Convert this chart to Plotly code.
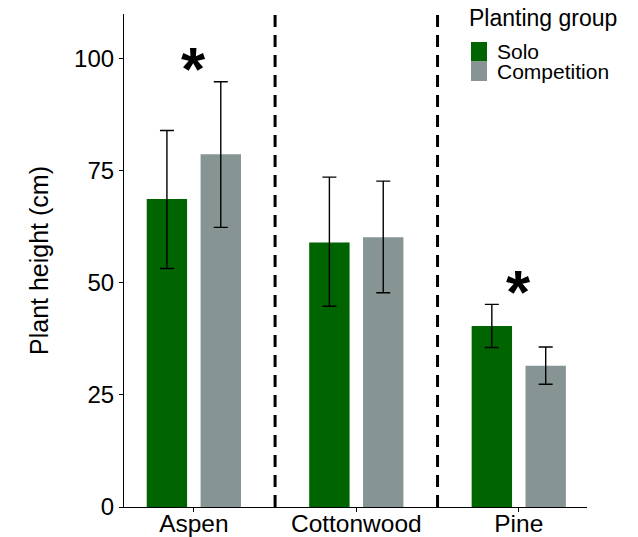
import plotly.graph_objects as go

# Mean plant height per species and planting group, with error bounds
species = ["Aspen", "Cottonwood", "Pine"]
groups = ["Solo", "Competition"]
solo_mean = [68.7, 59.0, 40.4]
solo_low = [53.2, 44.8, 35.6]
solo_high = [84.0, 73.6, 45.2]
comp_mean = [78.7, 60.2, 31.5]
comp_low = [62.4, 47.8, 27.4]
comp_high = [94.9, 72.7, 35.7]
significant = ["Aspen", "Pine"]
y_ticks = [0, 25, 50, 75, 100]

colors = {"Solo": "#006400", "Competition": "#869594"}
FONT = "Liberation Sans, Arial, Helvetica, sans-serif"

W, H = 638, 537
M_L, M_R, M_T, M_B = 124, 51, 14, 30
PW, PH = W - M_L - M_R, H - M_T - M_B


def px_x(px):
    return (px - M_L) / PW


def px_y(py):
    return (H - M_B - py) / PH


fig = go.Figure()
series = [
    ("Solo", solo_mean, solo_low, solo_high),
    ("Competition", comp_mean, comp_low, comp_high),
]
for name, mean, low, high in series:
    fig.add_trace(go.Bar(
        x=species, y=mean, name=name,
        marker=dict(color=colors[name], line=dict(width=0)),
        error_y=dict(
            type="data", symmetric=False,
            array=[h - m for h, m in zip(high, mean)],
            arrayminus=[m - l for m, l in zip(mean, low)],
            color="black", thickness=1.4, width=7,
        ),
        showlegend=False,
    ))

# Dashed separators between species
for i in range(len(species) - 1):
    fig.add_shape(type="line", xref="x", yref="paper",
                  x0=i + 0.5, x1=i + 0.5, y0=0, y1=1,
                  line=dict(color="black", width=3, dash="12px,8px"))

# Significance markers above the tallest error bar of each flagged species
for sp in significant:
    i = species.index(sp)
    top = max(solo_high[i], comp_high[i])
    fig.add_annotation(x=sp, y=top + 4.5, xref="x", yref="y",
                       text="<b>*</b>", showarrow=False,
                       yanchor="middle", yshift=-7,
                       font=dict(family=FONT, size=62, color="black"))

# Legend drawn as keys and labels in the top-right corner
fig.add_annotation(x=px_x(468), y=px_y(4), xref="paper", yref="paper",
                   xanchor="left", yanchor="top", showarrow=False,
                   text="Planting group", borderpad=0,
                   font=dict(family=FONT, size=23, color="black"))
key_top = 42
key_h = 19.5
for k, name in enumerate(groups):
    y0 = key_top + k * key_h
    fig.add_shape(type="rect", xref="paper", yref="paper",
                  x0=px_x(471), x1=px_x(487),
                  y0=px_y(y0 + key_h), y1=px_y(y0),
                  fillcolor=colors[name], line=dict(width=0))
    fig.add_annotation(x=px_x(496), y=px_y(y0 + key_h / 2),
                       xref="paper", yref="paper",
                       xanchor="left", yanchor="middle", showarrow=False,
                       text=name, borderpad=0,
                       font=dict(family=FONT, size=21, color="black"))

fig.update_layout(
    width=W, height=H,
    margin=dict(l=M_L, r=M_R, t=M_T, b=M_B, autoexpand=False),
    plot_bgcolor="white", paper_bgcolor="white",
    barmode="group", bargap=0.337, bargroupgap=0.25,
    font=dict(family=FONT, color="black"),
    xaxis=dict(
        type="category", range=[-0.43, 2.42],
        showline=True, linecolor="black", linewidth=1.2,
        ticks="outside", ticklen=4, tickcolor="black", tickwidth=1,
        tickfont=dict(size=24.5, color="black"),
        ticklabelstandoff=-10,
        showgrid=False, zeroline=False,
    ),
    yaxis=dict(
        range=[0, 110], tickvals=y_ticks,
        showline=True, linecolor="black", linewidth=1.2,
        ticks="outside", ticklen=4, tickcolor="black", tickwidth=1,
        tickfont=dict(size=24, color="black"),
        showgrid=False, zeroline=False,
        title=dict(text="Plant height (cm)", standoff=18,
                   font=dict(size=25, color="black")),
    ),
)

fig.write_html("out.html")
